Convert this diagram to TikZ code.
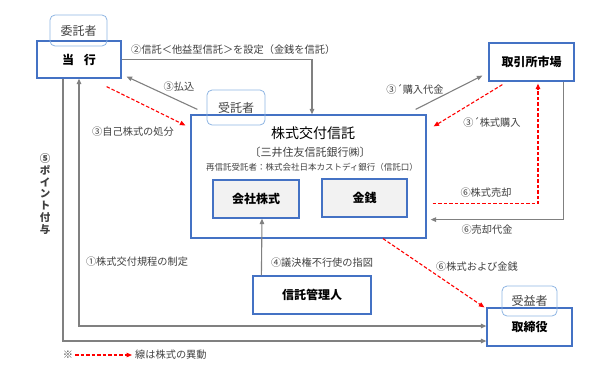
\documentclass[tikz,border=0pt]{standalone}
\usepackage{fontspec}
\setmainfont{Noto Sans CJK JP}
\usepackage{tikz}
\usetikzlibrary{arrows.meta, positioning, calc}
\usepackage{xcolor}
\definecolor{boxblue}{RGB}{68,114,196}
\definecolor{tagblue}{RGB}{141,180,226}
\definecolor{linegray}{RGB}{128,128,128}
\definecolor{txtgray}{RGB}{64,64,64}
\definecolor{boxfill}{RGB}{242,242,242}

\begin{document}
\begin{tikzpicture}[
    x=1pt, y=-1pt,
    party/.style={rectangle, draw=boxblue, line width=1.2pt, minimum width=85pt, minimum height=38pt, align=center, font=\fontsize{12}{14}\selectfont\bfseries},
    asset/.style={party, fill=boxfill},
    tag/.style={rectangle, draw=tagblue, line width=0.8pt, rounded corners=5pt, minimum width=57pt, minimum height=31pt, font=\fontsize{12}{14}\selectfont, text=txtgray},
    lbl/.style={font=\fontsize{10.2}{12}\selectfont, text=txtgray, inner sep=1pt},
    garrow/.style={-{Triangle[length=5.5pt, width=4.5pt]}, draw=linegray, line width=1.1pt},
    rarrow/.style={-{Triangle[length=5.5pt, width=4.5pt]}, draw=red, line width=1.1pt, dash pattern=on 3.5pt off 2pt}
]
    \useasboundingbox (0,0) rectangle (600,368);

    % Components
    \node[party, minimum width=84pt, minimum height=37pt] (tosha) at (79,59.5) {当\hspace{0.8em}行};
    \node[tag] (itaku) at (78.5,30.5) {委託者};
    \node[rectangle, draw=boxblue, line width=1.2pt, minimum width=235pt, minimum height=123pt] (trust) at (308.5,176.5) {};
    \node[tag, minimum width=58pt, minimum height=35pt] (jutaku) at (236,107.5) {受託者};
    \node[font=\fontsize{14}{16}\selectfont] (trustname) at (313,133) {株式交付信託};
    \node[font=\fontsize{11}{13}\selectfont, text=txtgray] (bank) at (310,152) {〔三井住友信託銀行㈱〕};
    \node[font=\fontsize{8.5}{10}\selectfont, text=txtgray] (rebank) at (312,167) {再信託受託者：株式会社日本カストディ銀行（信託口）};
    \node[asset, minimum width=86pt] (kabu) at (256,199) {会社株式};
    \node[asset] (kinsen) at (364.5,198) {金銭};
    \node[party] (market) at (531.5,62) {取引所市場};
    \node[party, minimum width=118pt] (kanri) at (312,295) {信託管理人};
    \node[party] (torishimari) at (529.5,327) {取締役};
    \node[tag, minimum width=55pt, minimum height=30pt] (jueki) at (529.5,301) {受益者};

    % Arrows
    \draw[garrow] (tosha.east) -| ($(trust.north)+(3.5,0)$);
    \node[lbl, anchor=west] (l2) at (130,50) {②信託＜他益型信託＞を設定（金銭を信託）};
    \draw[garrow] ($(trust.north west)+(7,-5)$) -- ($(tosha.south east)+(5,-2)$);
    \node[lbl] (l3a) at (179,87) {③払込};
    \draw[rarrow] ($(tosha.south east)+(-15,8)$) -- ($(trust.north west)+(-5,11)$);
    \node[lbl] (l3b) at (133,132) {③自己株式の処分};
    \draw[garrow] ($(trust.north east)+(-11,-5)$) -- ($(market.south west)+(-6,-6)$);
    \node[lbl] (l3c) at (415,89) {③´購入代金};
    \draw[rarrow] ($(market.south west)+(14,3)$) -- ($(trust.north east)+(7,12)$);
    \node[lbl] (l3d) at (492,122) {③´株式購入};
    \draw[rarrow] ($(trust.south east)+(6,-35)$) -| ($(market.south)+(6.5,2)$);
    \node[lbl] (l6a) at (486,193) {⑥株式売却};
    \draw[garrow] ($(market.south east)+(-11,0)$) |- ($(trust.south east)+(4,-19)$);
    \node[lbl] (l6b) at (487,230) {⑥売却代金};
    \draw[rarrow] ($(trust.south)+(74.5,0)$) -- ($(torishimari.north west)+(-2,0)$);
    \node[lbl] (l6c) at (477,267) {⑥株式および金銭};
    \draw[garrow] ($(kanri.north west)+(9,0)$) -- ($(kabu.south)+(6,0)$);
    \node[lbl] (l4) at (322,263) {④議決権不行使の指図};
    \draw[garrow, {Triangle[length=5.5pt, width=4.5pt]}-{Triangle[length=5.5pt, width=4.5pt]}] (tosha.south) |- ($(torishimari.west)+(0,-1)$);
    \node[lbl] (l1) at (137,262) {①株式交付規程の制定};
    \draw[garrow] ($(tosha.south)+(-16,0)$) |- ($(torishimari.west)+(0,14)$);
    \node[lbl, align=center, font=\fontsize{10.5}{11.7}\selectfont\bfseries] (l5) at (45,194) {⑤\\ポ\\イ\\ン\\ト\\付\\与};

    % Legend
    \node[lbl] (mark) at (68,355) {※};
    \coordinate (legfrom) at (75,355);
    \coordinate (legto) at (132,355);
    \draw[rarrow] (legfrom) -- (legto);
    \node[lbl, anchor=west] (legtext) at (134,355) {線は株式の異動};
\end{tikzpicture}
\end{document}
